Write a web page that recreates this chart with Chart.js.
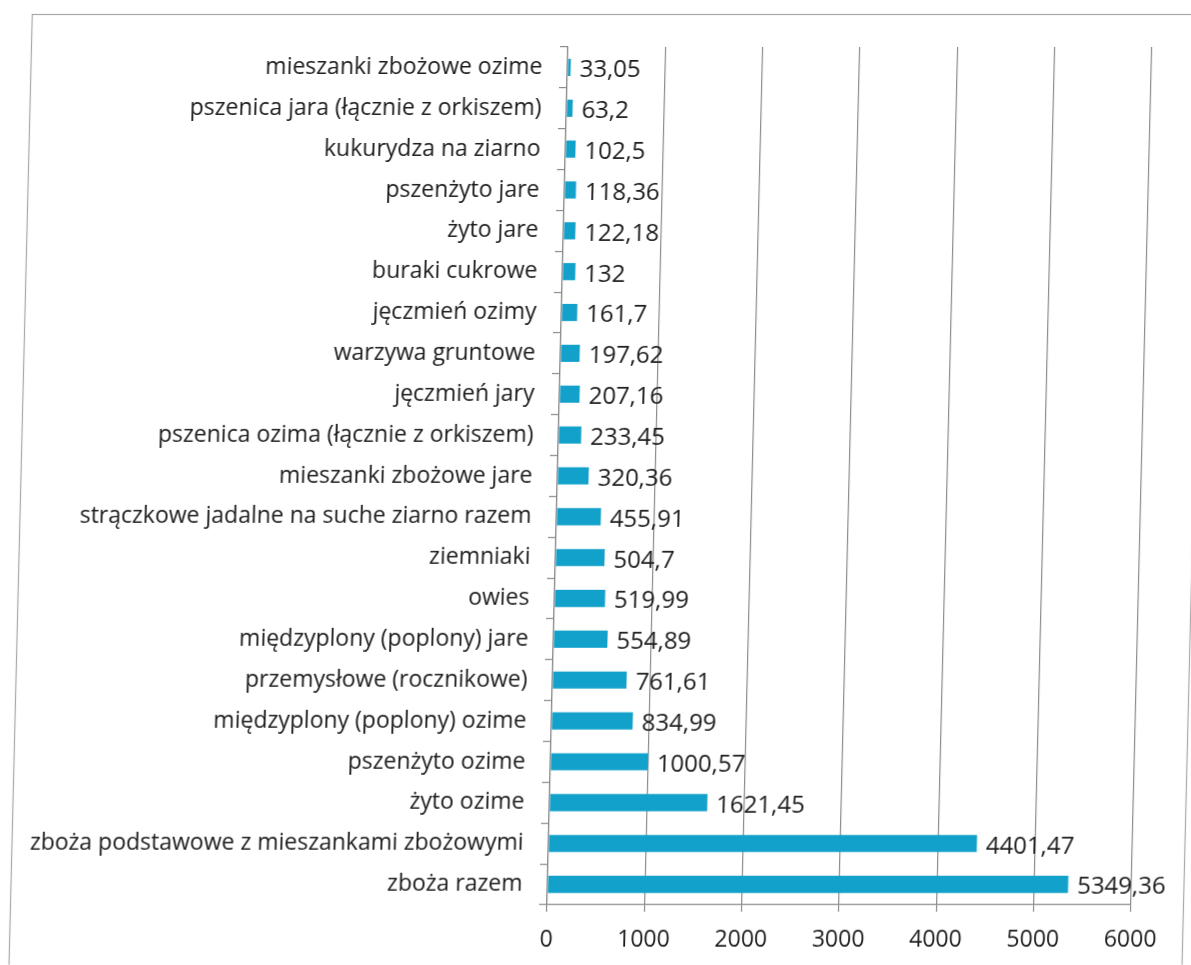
<!DOCTYPE html>
<html lang="pl">
<head>
<meta charset="utf-8">
<title>Powierzchnia upraw</title>
<script src="https://cdn.jsdelivr.net/npm/chart.js@4/dist/chart.umd.min.js"></script>
<style>
  html, body { margin: 0; padding: 0; background: #fff; overflow: hidden; }
  #page {
    position: absolute; left: 0; top: 0; width: 1191px; height: 965px;
    transform-origin: 0 905px; transform: skewX(-1.4deg);
  }
  canvas { display: block; }
</style>
</head>
<body>
<div id="page"><canvas id="chart" width="1191" height="965"></canvas></div>
<script>
// Crops, listed top to bottom as they appear on the axis
const categories = [
  'mieszanki zbożowe ozime',
  'pszenica jara (łącznie z orkiszem)',
  'kukurydza na ziarno',
  'pszenżyto jare',
  'żyto jare',
  'buraki cukrowe',
  'jęczmień ozimy',
  'warzywa gruntowe',
  'jęczmień jary',
  'pszenica ozima (łącznie z orkiszem)',
  'mieszanki zbożowe jare',
  'strączkowe jadalne na suche ziarno razem',
  'ziemniaki',
  'owies',
  'międzyplony (poplony) jare',
  'przemysłowe (rocznikowe)',
  'międzyplony (poplony) ozime',
  'pszenżyto ozime',
  'żyto ozime',
  'zboża podstawowe z mieszankami zbożowymi',
  'zboża razem'
];

const values = [
  33.05, 63.2, 102.5, 118.36, 122.18, 132, 161.7, 197.62, 207.16, 233.45,
  320.36, 455.91, 504.7, 519.99, 554.89, 761.61, 834.99, 1000.57, 1621.45,
  4401.47, 5349.36
];

const xTicks = [0, 1000, 2000, 3000, 4000, 5000, 6000];

const FONT = '"Open Sans", "DejaVu Sans", sans-serif';
const TEXT = '#1c1c1c';
const BAR = '#12a1ca';

// Polish decimal comma
const fmt = v => String(v).replace('.', ',');

// Thin frame around the whole chart object
const framePlugin = {
  id: 'frame',
  beforeDraw(chart) {
    const ctx = chart.ctx;
    ctx.save();
    ctx.fillStyle = '#fff';
    ctx.fillRect(0, 0, chart.width, chart.height);
    ctx.strokeStyle = '#a8a8a8';
    ctx.lineWidth = 1.2;
    ctx.strokeRect(10.5, 14.5, 1173, 1100);
    ctx.restore();
  }
};

// Value written just past the end of each bar
const valueLabels = {
  id: 'valueLabels',
  afterDatasetsDraw(chart) {
    const ctx = chart.ctx;
    const meta = chart.getDatasetMeta(0);
    ctx.save();
    ctx.font = '24px ' + FONT;
    ctx.fillStyle = TEXT;
    ctx.textAlign = 'left';
    ctx.textBaseline = 'middle';
    meta.data.forEach((bar, i) => {
      ctx.fillText(fmt(values[i]), bar.x + 9, bar.y + 3);
    });
    ctx.restore();
  }
};

new Chart(document.getElementById('chart'), {
  type: 'bar',
  data: {
    labels: categories,
    datasets: [{
      data: values,
      backgroundColor: BAR,
      borderWidth: 0,
      categoryPercentage: 1,
      barPercentage: 0.42
    }]
  },
  options: {
    indexAxis: 'y',
    responsive: false,
    animation: false,
    devicePixelRatio: 1,
    layout: { padding: { top: 47, right: 60, bottom: 0, left: 0 } },
    plugins: {
      legend: { display: false },
      tooltip: { enabled: false }
    },
    scales: {
      x: {
        type: 'linear',
        min: 0,
        max: 6000,
        afterBuildTicks(scale) { scale.ticks = xTicks.map(v => ({ value: v })); },
        afterFit(scale) { scale.height = 60; },
        grid: { color: '#8c8c8c', lineWidth: 1.2, tickLength: 7, drawTicks: true },
        border: { display: true, color: '#8c8c8c', width: 1.2 },
        ticks: {
          color: TEXT,
          font: { family: FONT, size: 23 },
          padding: 15,
          maxRotation: 0,
          callback: v => String(v)
        }
      },
      y: {
        type: 'category',
        offset: true,
        afterFit(scale) { scale.width = 547; },
        grid: {
          offset: true,
          drawOnChartArea: false,
          drawTicks: true,
          tickLength: 8,
          color: '#8c8c8c',
          lineWidth: 1.2
        },
        border: { display: true, color: '#8c8c8c', width: 1.2 },
        ticks: {
          color: TEXT,
          font: { family: FONT, size: 23 },
          padding: 17,
          autoSkip: false
        }
      }
    }
  },
  plugins: [framePlugin, valueLabels]
});
</script>
</body>
</html>
